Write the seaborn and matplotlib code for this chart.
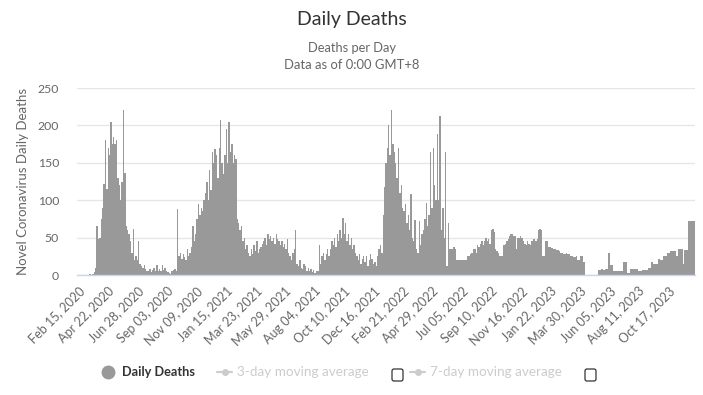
import numpy as np
import pandas as pd
import seaborn as sns
import matplotlib
matplotlib.use("Agg")
import matplotlib.pyplot as plt
from matplotlib.patches import FancyBboxPatch

# ---- data (daily deaths, read as ~3-day bins starting Feb 15, 2020) ----
deaths = (
    [0] * 9 + [1, 0, 2, 4, 10, 65, 48, 50, 75, 90, 122, 180, 115, 170, 160, 205, 175, 185, 175, 180,
               130, 120, 100, 125, 220, 137, 65, 60, 55, 45, 30, 62, 20, 25, 20, 45, 15, 12, 10, 13, 8]
    + [6, 5, 8, 4, 7, 9, 5, 13, 6, 8, 5, 14, 7, 9, 6, 4, 3, 2, 5, 7, 8, 5]
    + [88, 25, 30, 22, 28, 24, 20, 35, 25, 30, 38, 65, 45, 55, 75, 95, 80, 90, 85, 100]
    + [110, 125, 100, 140, 113, 165, 150, 168, 160, 130, 170, 207, 150, 135, 160, 195, 150, 205, 165,
       175, 150, 160, 155, 75, 70, 60, 65, 45, 50, 35, 40]
    + [30, 25, 35, 28, 40, 32, 45, 30, 35, 38, 42]
    + [45, 50, 40, 55, 48, 52, 45, 50, 42, 55, 48, 45]
    + [40, 45, 38, 42, 35, 48, 30, 25, 20, 30, 35, 60]
    + [15, 12, 20, 10, 8, 15, 12, 6, 10, 5, 8, 4, 7, 3, 6, 5, 40]
    + [15, 25, 30, 20, 28, 35, 25, 35, 45, 40, 50, 38, 55, 45, 60, 50, 76, 55, 70]
    + [45, 55, 40, 50, 35, 40, 30]
    + [25, 20, 28, 15, 22, 25, 18, 25, 12, 20, 28, 22, 15, 18, 12, 25, 35, 40, 30]
    + [80, 118, 150, 170, 200, 160, 221, 175, 165, 150, 130, 170, 110, 120, 90, 85, 95, 70, 80, 60,
       108, 50, 45, 73, 35, 30, 72, 40, 55, 60, 75, 96, 65, 80, 164, 90, 170, 120, 100, 188, 100,
       213, 60, 90, 50, 165, 12, 70]
    + [35, 35, 35, 38, 35] + [20] * 8
    + [25, 25, 28, 30, 35, 35, 30, 40, 38, 42, 45, 40, 45, 50, 45, 48, 42, 60, 62, 58, 35, 32, 30,
       25, 25, 25, 40, 42, 45, 48, 52, 55, 55, 52, 52, 35, 50, 50, 52, 50, 45, 42, 40, 45, 42,
       40, 45, 48, 48, 46, 48, 60, 62, 60, 25, 25, 45, 45, 38, 38, 36, 36, 35, 35, 33, 33,
       32, 30, 30, 28, 28, 30, 28, 28, 25, 25, 24, 24, 25, 20, 20, 26, 26, 17, 17]
    + [0] * 9
    + [7, 7, 8, 8, 7, 8, 8, 30, 30, 13, 13, 5, 5, 5, 5, 5, 5, 5, 18, 18, 18, 3, 3,
       8, 8, 8, 8, 8, 8, 5, 5, 5, 7, 7, 7, 7, 10, 10, 17, 17, 15, 15, 15, 22, 22, 20, 20,
       25, 25, 25, 30, 30, 32, 32, 32, 32, 25, 25, 35, 35, 35, 15, 33, 33, 33, 72, 72, 72, 72, 72]
)
tick_labels = ["Feb 15, 2020", "Apr 22, 2020", "Jun 28, 2020", "Sep 03, 2020", "Nov 09, 2020",
               "Jan 15, 2021", "Mar 23, 2021", "May 29, 2021", "Aug 04, 2021", "Oct 10, 2021",
               "Dec 16, 2021", "Feb 21, 2022", "Apr 29, 2022", "Jul 05, 2022", "Sep 10, 2022",
               "Nov 16, 2022", "Jan 22, 2023", "Mar 30, 2023", "Jun 05, 2023", "Aug 11, 2023",
               "Oct 17, 2023"]
tick_step_days = 67
y_ticks = [0, 50, 100, 150, 200, 250]

bin_days = 3.155

W, H = 703, 395
sns.set_theme(style="white")
plt.rcParams["font.family"] = ["Lato", "DejaVu Sans"]

fig = plt.figure(figsize=(W / 100, H / 100), dpi=100)
ax = fig.add_axes([77 / W, 1 - 275 / H, (695 - 77) / W, (275 - 88) / H])

n_days = len(deaths) * bin_days
df = pd.DataFrame({"day": np.arange(len(deaths)) * bin_days + bin_days / 2, "deaths": deaths})
sns.barplot(data=df, x="day", y="deaths", native_scale=True, color="#999999", saturation=1,
            width=1, linewidth=0, ax=ax, zorder=2)

ax.set_xlim(0, n_days)
ax.set_ylim(0, 250)
ax.set_yticks(y_ticks)
ax.set_yticklabels([str(v) for v in y_ticks])
ax.yaxis.grid(True, color="#e6e6e6", lw=1)
ax.xaxis.grid(False)
ax.set_axisbelow(True)
for s in ["top", "right", "left"]:
    ax.spines[s].set_visible(False)
ax.spines["bottom"].set_color("#ccd6eb")
ax.spines["bottom"].set_linewidth(1)
ax.spines["bottom"].set_zorder(3)

tick_pos = [k * tick_step_days + 3 for k in range(len(tick_labels))]
ax.set_xticks(tick_pos)
ax.set_xticklabels(tick_labels, rotation=45, ha="right", rotation_mode="anchor",
                   fontsize=9, color="#666666")
ax.tick_params(axis="x", length=0, pad=7)
ax.tick_params(axis="y", length=0, pad=13, labelsize=8.8, labelcolor="#666666")
ax.set_xlabel("")
ax.set_ylabel("")

# titles
fig.text(352 / W, 1 - 19 / H, "Daily Deaths", ha="center", va="center", fontsize=14, color="#333333")
fig.text(352 / W, 1 - 48 / H, "Deaths per Day", ha="center", va="center", fontsize=9.3, color="#666666")
fig.text(352 / W, 1 - 65 / H, "Data as of 0:00 GMT+8", ha="center", va="center", fontsize=9.4, color="#666666")
fig.text(23 / W, 1 - 181 / H, "Novel Coronavirus Daily Deaths", rotation=90, ha="center", va="center",
         fontsize=9.5, color="#666666")

# legend drawn in pixel coordinates
lg = fig.add_axes([0, 0, 1, 1], zorder=5)
lg.set_xlim(0, W)
lg.set_ylim(H, 0)
lg.axis("off")
ly = 372
lg.plot([108], [ly], marker="o", ms=9, color="#999999", mec="#999999")
lg.text(122, ly, "Daily Deaths", fontsize=9.2, fontweight="bold", color="#333333", va="center")
lg.plot([217, 232], [ly, ly], color="#cccccc", lw=1.5)
lg.plot([224.5], [ly], marker="o", ms=4, color="#cccccc")
lg.text(237, ly, "3-day moving average", fontsize=9.7, color="#cccccc", va="center")
lg.plot([410, 425], [ly, ly], color="#cccccc", lw=1.5)
lg.plot([417.5], [ly], marker="o", ms=4, color="#cccccc")
lg.text(430, ly, "7-day moving average", fontsize=9.7, color="#cccccc", va="center")
for bx in (392, 585):
    lg.add_patch(FancyBboxPatch((bx, 369), 11, 12, boxstyle="round,pad=0,rounding_size=2",
                                fc="white", ec="#333333", lw=0.9))

fig.savefig("out.png", dpi=100)
